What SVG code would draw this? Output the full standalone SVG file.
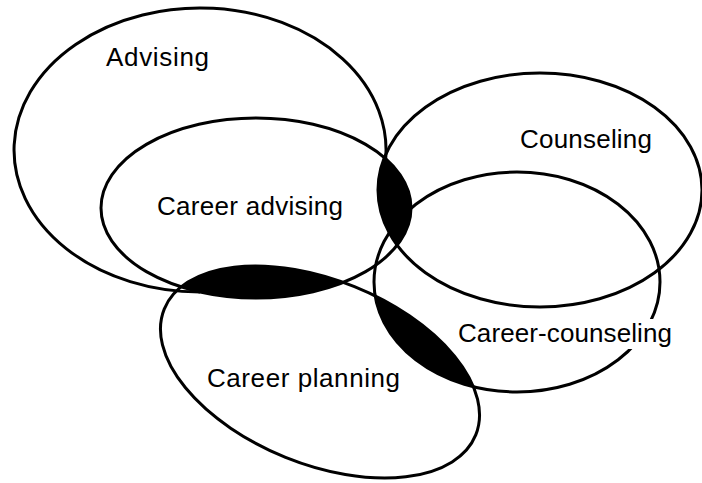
<svg xmlns="http://www.w3.org/2000/svg" width="702" height="483" viewBox="0 0 702 483">
  <style>
    .edge { fill: none; stroke: #000; stroke-width: 3; }
    .dark { fill: #000; stroke: none; }
    .lbl { font-family: "Liberation Sans", Arial, sans-serif; font-size: 26px; fill: #000; }
  </style>
  <defs>
    <clipPath id="clipCA"><ellipse cx="256" cy="208" rx="155" ry="90"/></clipPath>
    <clipPath id="clipCP"><ellipse cx="320" cy="372" rx="168" ry="92" transform="rotate(22 320 372)"/></clipPath>
  </defs>
  <rect x="0" y="0" width="702" height="483" fill="#fff"/>

  <g id="overlaps">
    <ellipse class="dark" cx="540" cy="190" rx="162" ry="117" clip-path="url(#clipCA)"/>
    <g clip-path="url(#clipCA)"><ellipse class="dark" cx="320" cy="372" rx="168" ry="92" transform="rotate(22 320 372)"/></g>
    <ellipse class="dark" cx="517" cy="282" rx="143" ry="110" clip-path="url(#clipCP)"/>
  </g>

  <g id="advising">
    <path class="edge" d="M385,165 A186,142 0 1 0 200,292"/>
    <text class="lbl" x="106" y="66" textLength="103">Advising</text>
  </g>
  <g id="career-advising">
    <ellipse class="edge" cx="256" cy="208" rx="155" ry="90"/>
    <text class="lbl" x="157" y="215" textLength="186">Career advising</text>
  </g>
  <g id="counseling">
    <ellipse class="edge" cx="540" cy="190" rx="162" ry="117"/>
    <text class="lbl" x="520" y="148" textLength="132">Counseling</text>
  </g>
  <g id="career-planning">
    <ellipse class="edge" cx="320" cy="372" rx="168" ry="92" transform="rotate(22 320 372)"/>
    <text class="lbl" x="207" y="387" textLength="193">Career planning</text>
  </g>
  <g id="career-counseling">
    <ellipse class="edge" cx="517" cy="282" rx="143" ry="110"/>
    <rect x="618" y="319" width="48" height="30" fill="#fff"/>
    <text class="lbl" x="458" y="342" textLength="214">Career-counseling</text>
  </g>
</svg>
